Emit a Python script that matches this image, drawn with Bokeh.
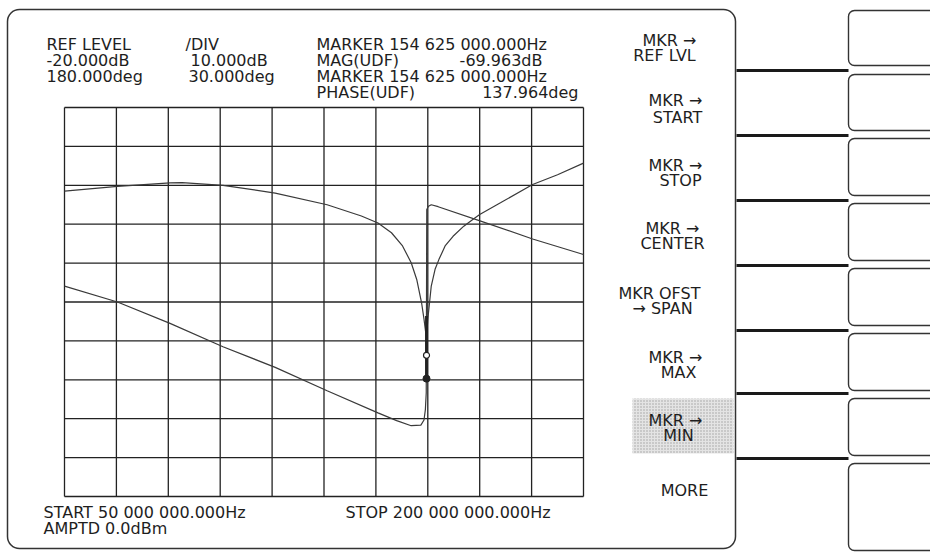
from bokeh.plotting import figure
from bokeh.models import Range1d, Label, BoxAnnotation
from bokeh.embed import file_html
from bokeh.resources import INLINE

start_mhz = 50.0
stop_mhz = 200.0
ref_level_db = -20.0
db_per_div = 10.0
ref_phase_deg = 180.0
deg_per_div = 30.0
n_div = 10

freq_ticks_mhz = [50, 65, 80, 95, 110, 125, 140, 155, 170, 185, 200]
mag_ticks_db = [-20, -30, -40, -50, -60, -70, -80, -90, -100, -110, -120]

mag_freq_mhz = [50.0, 65.3, 80.5, 84.0, 95.8, 110.9, 125.9, 135.8, 140.6, 144.5,
                147.7, 150.2, 151.8, 153.2, 153.9, 154.4, 154.625, 154.8, 155.0,
                155.5, 156.0, 157.1, 158.2, 160.0, 162.3, 165.4, 168.0, 170.0,
                176.0, 185.3, 192.5, 200.0]
mag_db = [-41.5, -40.3, -39.4, -39.3, -40.0, -42.0, -45.0, -47.9, -49.7, -52.2,
          -55.6, -59.9, -64.2, -70.2, -74.4, -77.9, -89.7, -77.0, -74.4,
          -70.2, -65.9, -61.6, -59.1, -55.6, -53.1, -50.5, -48.8, -47.5,
          -44.5, -39.8, -37.3, -34.3]

phase_freq_mhz = [50.0, 65.3, 80.5, 95.8, 110.9, 125.9, 140.6, 146.0, 150.2, 153.0,
                  153.9, 154.3, 154.55, 154.7, 155.2, 156.0, 158.0, 170.3, 185.3, 200.0]
phase_deg = [42.3, 30.0, 13.5, -4.5, -20.4, -38.4, -55.5, -61.5, -65.4, -65.0,
             -61.0, -53.0, -40.0, 101.4, 103.8, 105.0, 103.5, 92.4, 78.6, 66.6]

marker_freq_mhz = [154.625]
marker_open_db = [-83.7]
marker_fill_db = [-89.7]
notch_trace_db = [-73.6, -89.7]

header_texts = ["REF LEVEL", "/DIV", "MARKER 154 625 000.000Hz",
                "-20.000dB", "10.000dB", "MAG(UDF)", "-69.963dB",
                "180.000deg", "30.000deg", "MARKER 154 625 000.000Hz",
                "PHASE(UDF)", "137.964deg"]
footer_texts = ["START 50 000 000.000Hz", "STOP 200 000 000.000Hz", "AMPTD 0.0dBm"]
softkey_texts = ["MKR →", "REF LVL", "MKR →", "START", "MKR →", "STOP",
                 "MKR →", "CENTER", "MKR OFST", "→ SPAN", "MKR →", "MAX",
                 "MKR →", "MIN", "MORE"]

# ---------------- layout (page pixels) ----------------
W, H = 930, 552
GL, GR, GT, GB = 64, 583, 107, 496   # graticule edges in canvas px


def sx(X):
    return X


def sy(Y):
    return H - Y


kx = (stop_mhz - start_mhz) / (GR - GL)
bottom_db = ref_level_db - db_per_div * n_div
ky = (ref_level_db - bottom_db) / (GB - GT)
bottom_deg = ref_phase_deg - deg_per_div * n_div
kp = (ref_phase_deg - bottom_deg) / (GB - GT)

p = figure(width=W, height=H, title=None,
           x_range=Range1d(start_mhz - GL * kx, stop_mhz + (W - GR) * kx),
           y_range=Range1d(bottom_db - (H - GB) * ky, ref_level_db + GT * ky),
           x_axis_type=None, y_axis_type=None,
           output_backend="svg", toolbar_location=None, min_border=0)
p.extra_y_ranges = {"phase": Range1d(bottom_deg - (H - GB) * kp, ref_phase_deg + GT * kp)}
p.outline_line_color = None
p.background_fill_color = "white"
p.border_fill_color = "white"

INK = "#222222"

# graticule
p.segment(x0=freq_ticks_mhz, x1=freq_ticks_mhz,
          y0=[bottom_db] * len(freq_ticks_mhz), y1=[ref_level_db] * len(freq_ticks_mhz),
          line_color=INK, line_width=1.3)
p.segment(x0=[start_mhz] * len(mag_ticks_db), x1=[stop_mhz] * len(mag_ticks_db),
          y0=mag_ticks_db, y1=mag_ticks_db, line_color=INK, line_width=1.3)

# traces
p.line(mag_freq_mhz, mag_db, line_color="#3a3a3a", line_width=1.2)
p.line(phase_freq_mhz, phase_deg, y_range_name="phase", line_color="#3a3a3a", line_width=1.2)
p.segment(x0=marker_freq_mhz * 2, x1=marker_freq_mhz * 2,
          y0=notch_trace_db[:1] * 2, y1=notch_trace_db[1:] * 2,
          line_color=INK, line_width=2.5)
p.scatter(marker_freq_mhz, marker_fill_db, size=7, fill_color=INK, line_color=INK)
p.scatter(marker_freq_mhz, marker_open_db, size=6, fill_color="white", line_color=INK,
          line_width=1.2)

FONT = "DejaVu Sans"
FS = "16px"


def label(text, X, Y, align="left"):
    p.add_layout(Label(x=sx(X), y=sy(Y), x_units="screen", y_units="screen",
                       text=text, text_font=FONT, text_font_size=FS,
                       text_color="#1e1e1e", text_align=align,
                       text_baseline="middle"))


def box(L, R, T, B, **kw):
    kw.setdefault("line_alpha", 1.0)
    kw.setdefault("fill_alpha", 1.0)
    p.add_layout(BoxAnnotation(left=sx(L), right=sx(R), top=sy(T), bottom=sy(B),
                               left_units="screen", right_units="screen",
                               top_units="screen", bottom_units="screen", **kw))


# outer rounded frame of the display
box(7, 735, 9, 548, fill_color=None, line_color="#333333", line_width=1.5,
    border_radius=12)

# right-hand key boxes and separator bars
key_tops = [10, 74, 138, 203, 268, 333, 398, 463]
key_bottoms = [65, 130, 195, 260, 325, 390, 455, 550]
for t, b in zip(key_tops, key_bottoms):
    box(848, 950, t, b, fill_color=None, line_color="#333333", line_width=1.4,
        border_radius=6)
for yb in [70, 135, 200, 265, 330, 393, 458]:
    box(736, 848, yb - 1.5, yb + 1.5, fill_color="#1a1a1a", line_color=None)

# highlighted soft key
box(632, 733, 398, 453, fill_color="#e4e4e4", line_color=None,
    hatch_pattern="dot", hatch_color="#a0a0a0", hatch_scale=3, hatch_weight=1)

# header
header_pos = [(46, 44, "left"), (185, 44, "left"), (316, 44, "left"),
              (46, 60, "left"), (190, 60, "left"), (316, 60, "left"), (542, 60, "right"),
              (46, 76, "left"), (188, 76, "left"), (316, 76, "left"),
              (316, 92, "left"), (578, 92, "right")]
for t, (X, Y, a) in zip(header_texts, header_pos):
    label(t, X, Y, a)

# footer
footer_pos = [(43, 512), (345, 512), (43, 528)]
for t, (X, Y) in zip(footer_texts, footer_pos):
    label(t, X, Y)

# soft keys
soft_pos = [(669, 40), (664, 55), (675, 100), (677, 117), (675, 165), (680, 180),
            (672, 228), (672, 243), (659, 293), (662, 308), (675, 357), (678, 372),
            (675, 420), (678, 435), (684, 490)]
for t, (X, Y) in zip(softkey_texts, soft_pos):
    label(t, X, Y, align="center")

open("out.html", "w").write(file_html(p, INLINE))
